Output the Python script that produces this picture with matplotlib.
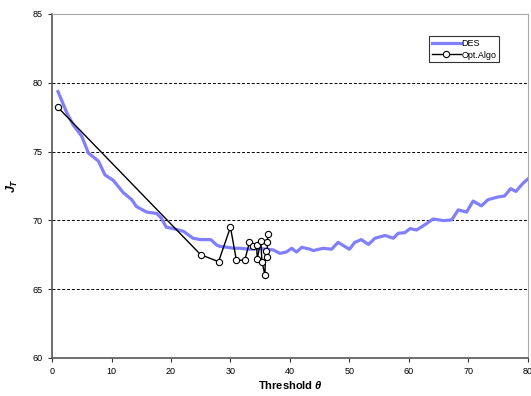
import matplotlib
matplotlib.use('Agg')
import matplotlib.pyplot as plt

plt.rcParams['font.family'] = ['Liberation Sans', 'DejaVu Sans']
plt.rcParams['mathtext.fontset'] = 'custom'
plt.rcParams['mathtext.it'] = 'Liberation Sans:italic:bold'
plt.rcParams['mathtext.rm'] = 'Liberation Sans:bold'

# DES curve (threshold, J_T)
des_x = [1, 2.5, 3.6, 5, 6.1, 7.8, 8.9, 10.3, 12, 13.4, 14.2, 15.9, 17.6, 18.4,
         19.2, 20.4, 22.1, 23.7, 25, 26.7, 27.7, 28.3, 29.5, 30.5, 31.6, 33.3,
         35, 37.2, 38.3, 39.4, 40.3, 41.1, 42, 43.4, 43.9, 45.6, 47, 48.1, 50,
         50.9, 52, 53.2, 54.3, 56, 57.4, 58.2, 59.3, 60.2, 61.3, 62.4, 64.1,
         65.8, 67.2, 68.3, 69.7, 70.8, 72.2, 73.3, 75, 76.1, 77.1, 78, 79.2, 80]
des_y = [79.35, 77.8, 76.9, 76.1, 74.9, 74.3, 73.3, 72.9, 72.0, 71.5, 71.0,
         70.6, 70.5, 70.15, 69.5, 69.4, 69.2, 68.7, 68.6, 68.6, 68.2, 68.1,
         68.04, 67.97, 67.97, 67.9, 67.95, 67.85, 67.6, 67.7, 67.97, 67.7,
         68.04, 67.9, 67.8, 67.97, 67.9, 68.4, 67.9, 68.4, 68.6, 68.25, 68.7,
         68.9, 68.7, 69.06, 69.1, 69.4, 69.3, 69.6, 70.1, 69.98, 70.03, 70.76,
         70.6, 71.4, 71.05, 71.5, 71.7, 71.77, 72.3, 72.1, 72.7, 73.0]

# Opt.Algo iterations
opt_x = [1, 25, 28, 30, 31, 32.4, 33.2, 33.8, 34.4, 34.5, 35.1, 35.3, 35.8,
         35.9, 36.2, 36.2, 36.3]
opt_y = [78.2, 67.5, 67.0, 69.5, 67.1, 67.1, 68.4, 68.1, 68.2, 67.2, 68.5,
         67.0, 66.0, 67.8, 67.3, 68.4, 69.0]

fig = plt.figure(figsize=(5.31, 3.96), dpi=100)
ax = fig.add_axes([0.098, 0.096, 0.896, 0.869])

ax.plot(des_x, des_y, color='#8080FF', lw=2.3, label='DES', zorder=3)
ax.plot(opt_x, opt_y, color='black', lw=1, marker='o', markersize=4.5,
        markerfacecolor='white', markeredgecolor='black', markeredgewidth=0.8,
        label='Opt.Algo', zorder=4)

ax.set_xlim(0, 80)
ax.set_ylim(60, 85)
ax.set_xticks(range(0, 81, 10))
ax.set_yticks(range(60, 86, 5))
ax.tick_params(labelsize=6.5, direction='out', length=3, width=0.8,
               colors='#333333', labelcolor='black')

for y in [65, 70, 75, 80]:
    ax.axhline(y, color='black', lw=0.7, ls=(0, (3, 2)), zorder=1)

ax.spines['left'].set_color('#555555')
ax.spines['left'].set_linewidth(1.2)
ax.spines['bottom'].set_color('#555555')
ax.spines['bottom'].set_linewidth(1.2)
ax.spines['top'].set_color('#aaaaaa')
ax.spines['top'].set_linewidth(0.8)
ax.spines['right'].set_color('#aaaaaa')
ax.spines['right'].set_linewidth(0.8)

ax.set_xlabel(r'Threshold $\theta$', fontsize=8, fontweight='bold', labelpad=2)
ax.set_ylabel(r'$J_T$', fontsize=9, labelpad=9)

leg = ax.legend(loc='upper right', bbox_to_anchor=(0.94, 0.935), fontsize=6.5,
                frameon=True, fancybox=False, borderpad=0.3, labelspacing=0.3,
                handlelength=3.2, handletextpad=0.1, borderaxespad=0)
leg.get_frame().set_edgecolor('black')
leg.get_frame().set_linewidth(0.8)

fig.savefig('out.png', dpi=100)
